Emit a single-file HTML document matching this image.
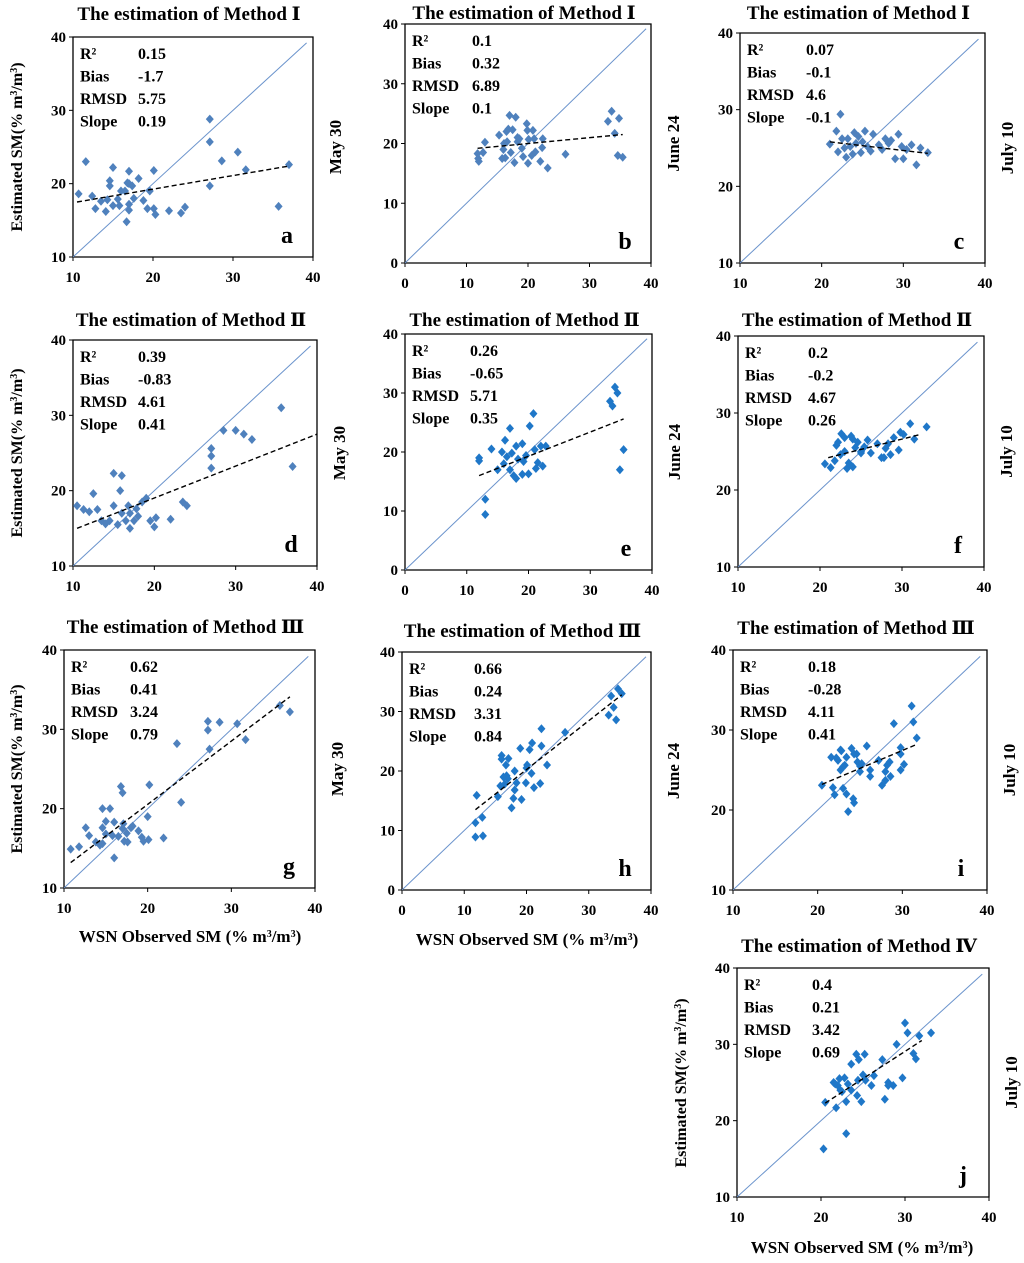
<!DOCTYPE html>
<html><head><meta charset="utf-8">
<style>
html,body{margin:0;padding:0;background:#fff;}
svg{display:block;font-family:"Liberation Serif","DejaVu Serif",serif;font-weight:bold;}
</style></head>
<body>
<svg id="fig" width="1024" height="1263" viewBox="0 0 1024 1263"></svg>
<script>
// ---- data ----
const aX=[10.7,11.6,12.4,12.8,13.5,14.1,14.3,14.6,14.6,15,15,15.6,15.8,16,16.5,16.8,16.7,17,17,17,17,17.4,17.6,18.2,18.8,19.3,19.6,20.1,20.1,20.3,22,23.5,24,27.1,27.1,27.1,28.6,30.6,31.6,35.7,37];
const aY=[18.6,23,18.3,16.6,17.6,16.2,17.8,20.4,19.7,22.2,17,17.9,17,19,19,20.1,14.8,21.7,20,17.2,16.4,19.7,18,20.7,17.7,16.6,19,21.8,16.6,15.8,16.3,16,16.8,28.8,25.7,19.7,23.1,24.3,21.9,16.9,22.6];
const bX=[11.8,11.9,12,12.7,13,15.3,15.8,16,16.1,16.3,16.5,16.6,16.8,17,17.2,17.5,17.8,18,18.3,18.3,18.6,19,19.2,19.8,19.9,20,20.1,20.6,20.8,21,21.2,22,22.3,22.4,23.2,26.1,33,33.6,34.1,34.6,34.8,35.4];
const bY=[18.3,17.5,17,18.5,20.2,21.4,17.5,19,20,17.6,22,20.3,22.4,24.7,18.5,22.3,16.8,24.4,20.3,21,20.8,19.2,17.8,23.3,22.2,16.7,20.7,18,22.2,20.8,18.6,17,19.3,20.8,15.9,18.2,23.7,25.4,21.7,18,24.2,17.7];
const cX=[21,21.8,22,22.3,22.5,22.8,23,23.2,23.5,23.8,24,24.2,24.5,24.8,25,25.3,25.6,26,26.3,27,27.4,27.8,28.2,28.5,29,29.4,29.8,30,30.4,31,31.6,32.1,33];
const cY=[25.5,27.2,24.5,29.4,26.2,25,23.8,26.2,25.2,24.2,27,25.6,26.5,24.4,25.8,27.2,25.2,24.6,26.8,25.4,24.8,26.2,25.6,26,23.6,26.8,25.2,23.6,24.8,25.4,22.8,25,24.4];
const dX=[10.5,11.3,12,12.5,13,13.5,14,14.5,15,15,15.5,15.8,16,16,16.5,16.8,17,17,17.5,17.8,18,18.5,19,19.5,20,20.2,22,23.5,24,27,27,27,28.5,30,31,32,35.6,37];
const dY=[18,17.5,17.2,19.6,17.5,16,15.6,16,18,22.3,15.5,20,17,22,16,18,15,17,16,17.6,16.6,18.5,19,16,15.2,16.4,16.2,18.5,18,25.6,24.6,23,28,28,27.5,26.8,31,23.2];
const eX=[12,12,13,13,14,15,15.7,16,16.2,16.5,17,17,17.3,17.6,18,18,18.3,19,19,19.2,19.6,20,20.2,20.8,21,21.2,21.5,22,22.3,22.8,33.2,33.6,34,34.4,34.8,35.4];
const eY=[19,18.5,12,9.4,20.5,17,20,18,22,19.2,17,24,19.8,16,21,15.5,18.8,16.2,21.4,18.4,19.4,16.3,24.4,26.5,20.4,17.2,18.2,21,17.6,21,28.6,27.8,31,30,17,20.4];
const fX=[20.6,21.3,21.8,22,22.2,22.5,22.6,23,23,23.3,23.5,23.8,24,24,24.3,24.6,25,25,25.4,25.8,26.2,27,27.5,27.8,28,28.3,28.6,29,29.6,29.8,30.2,31,31.5,33];
const fY=[23.4,22.9,23.8,25.8,26.2,24.6,27.3,26.8,25,22.8,23.5,27,26.6,23,25.5,26.2,25,24.8,25.6,26.5,24.8,26,24.2,24.2,25.4,26,24.6,26.8,25.2,27.5,27.2,28.6,26.6,28.2];
const gX=[10.8,11.8,12.6,13,13.8,14.3,14.6,14.6,14.6,15,15,15.5,16,15.8,16,16.5,16.8,17,17,17.1,17.2,17.5,17.6,18,18.2,18.9,19.3,19.5,20,20.1,20.2,21.9,23.5,24,27.2,27.2,27.4,28.6,30.7,31.7,35.8,37];
const gY=[14.9,15.2,17.6,16.6,15.8,15.4,15.6,17.6,20,18.4,16.8,20,18.3,16.6,13.8,16.5,22.8,22,17.5,18.1,15.9,16.9,15.8,17.6,17.8,17.2,16.4,15.9,19,16.1,23,16.3,28.2,20.8,31,29.9,27.5,30.9,30.7,28.7,33,32.2];
const hX=[11.8,11.8,12,12.9,13,15.4,15.8,16,16,16.3,16.5,16.7,16.8,17,17.1,17.6,17.9,18.1,18.1,18.4,19,19.2,19.9,20,20.1,20.5,20.8,20.9,21.2,22.2,22.4,22.4,23.3,26.2,33.2,33.6,34,34.4,34.7,35.3];
const hY=[8.9,11.3,15.9,12.2,9.1,15.7,17.5,22.6,22,19,17.8,21,19.2,18.7,22.1,13.8,15.4,16.8,20,18,23.8,15.2,18,20.5,21,23.6,19.6,24.7,17.2,17.9,24.2,27.1,21,26.5,29.4,32.6,30.7,28.6,33.8,33];
const iX=[20.5,21.6,21.8,22,22.2,22.4,22.7,22.7,22.8,23,23,23.2,23.4,23.4,23.6,24,24.2,24.3,24.3,24.6,24.7,25,25,25.2,25.8,26.2,26.2,27.2,27.6,28,28,28.2,28.5,28.6,29,29.8,29.8,29.8,30.2,31.1,31.3,31.7];
const iY=[23.1,26.6,22.8,21.9,26.5,26.2,25,27.5,27.4,25.4,22.7,25.6,26.6,22,19.8,27.7,21.4,20.9,27,27,26,24.8,25.5,25.8,28,25,24.2,26.2,23.1,23.7,24.8,25.6,26,24.2,30.8,25,27.8,27,25.7,33,31,29];
const jX=[20.3,20.5,21.5,21.7,21.8,22,22.2,22.3,22.5,22.8,23,23,23.2,23.6,23.6,24.2,24.3,24.4,24.5,24.8,25,25.2,25.3,26,26.3,27.3,27.6,28,28,28.6,29,29.7,30,30.3,31,31.3,31.7,33.1];
const jY=[16.3,22.4,25,24.8,21.7,24.6,25.5,24,23.8,25.6,22.5,18.3,24.8,24,27.4,28.7,23.3,25.3,28,22.5,26,28.7,25.3,24.6,25.9,28,22.8,25,24.6,24.6,30,25.6,32.8,31.5,28.8,28.1,31.1,31.5];
// trend line endpoints [x0,y0,x1,y1]
const aTrend=[10.5,17.5,37,22.4], bTrend=[11.8,19.2,35.4,21.5], cTrend=[21,25.8,33,24.3];
const dTrend=[10.5,15,40,27.5], eTrend=[12,16,35.4,25.6], fTrend=[21,24.2,32.2,27.2];
const gTrend=[10.8,13.2,37,34.1], hTrend=[11.8,13.5,35.3,32.8], iTrend=[20.5,23.2,31.7,28.2], jTrend=[20.5,22.3,32,30.5];
// stats
const statLabels=["R²","Bias","RMSD","Slope"];
const aStats=["0.15","-1.7","5.75","0.19"], bStats=["0.1","0.32","6.89","0.1"], cStats=["0.07","-0.1","4.6","-0.1"];
const dStats=["0.39","-0.83","4.61","0.41"], eStats=["0.26","-0.65","5.71","0.35"], fStats=["0.2","-0.2","4.67","0.26"];
const gStats=["0.62","0.41","3.24","0.79"], hStats=["0.66","0.24","3.31","0.84"], iStats=["0.18","-0.28","4.11","0.41"], jStats=["0.4","0.21","3.42","0.69"];
const ticks10=[10,20,30,40], ticks0=[0,10,20,30,40];

const NS="http://www.w3.org/2000/svg";
const svg=document.getElementById('fig');
function mk(tag,attrs,parent){const e=document.createElementNS(NS,tag);for(const k in attrs)e.setAttribute(k,attrs[k]);(parent||svg).appendChild(e);return e;}

const panels=[
 {id:'a',L:73,R:313,T:37,B:257,min:10,X:aX,Y:aY,tr:aTrend,st:aStats,title:"The estimation of Method Ⅰ",ty:20,date:"May 30",col:"#4f81bd",vx:138},
 {id:'b',L:405,R:651,T:24,B:263,min:0,X:bX,Y:bY,tr:bTrend,st:bStats,title:"The estimation of Method Ⅰ",ty:19,date:"June 24",col:"#4f81bd",vx:472},
 {id:'c',L:740,R:985,T:33,B:263,min:10,X:cX,Y:cY,tr:cTrend,st:cStats,title:"The estimation of Method Ⅰ",ty:19,date:"July 10",col:"#4f81bd",vx:806},
 {id:'d',L:73,R:317,T:340,B:566,min:10,X:dX,Y:dY,tr:dTrend,st:dStats,title:"The estimation of Method Ⅱ",ty:326,date:"May 30",col:"#4f81bd",vx:138},
 {id:'e',L:405,R:652,T:334,B:570,min:0,X:eX,Y:eY,tr:eTrend,st:eStats,title:"The estimation of Method Ⅱ",ty:326,date:"June 24",col:"#1f77c8",vx:470},
 {id:'f',L:738,R:984,T:336,B:567,min:10,X:fX,Y:fY,tr:fTrend,st:fStats,title:"The estimation of Method Ⅱ",ty:326,date:"July 10",col:"#1f77c8",vx:808},
 {id:'g',L:64,R:315,T:650,B:888,min:10,X:gX,Y:gY,tr:gTrend,st:gStats,title:"The estimation of Method Ⅲ",ty:633,date:"May 30",col:"#4f81bd",vx:130},
 {id:'h',L:402,R:651,T:652,B:890,min:0,X:hX,Y:hY,tr:hTrend,st:hStats,title:"The estimation of Method Ⅲ",ty:637,date:"June 24",col:"#1f77c8",vx:474},
 {id:'i',L:733,R:987,T:650,B:890,min:10,X:iX,Y:iY,tr:iTrend,st:iStats,title:"The estimation of Method Ⅲ",ty:634,date:"July 10",col:"#1f77c8",vx:808},
 {id:'j',L:737,R:989,T:968,B:1197,min:10,X:jX,Y:jY,tr:jTrend,st:jStats,title:"The estimation of Method Ⅳ",ty:952,date:"July 10",col:"#1f77c8",vx:812}
];

panels.forEach(p=>{
  const g=mk('g',{});
  
  
  const sx=v=>p.L+(v-p.min)/(40-p.min)*(p.R-p.L);
  const sy=v=>p.B-(v-p.min)/(40-p.min)*(p.B-p.T);
  const title=mk('text',{x:(p.L+p.R)/2-4,y:p.ty,'text-anchor':'middle','font-size':19},g);
  title.textContent=p.title;
  
  
  const frame=mk('path',{d:`M${p.L},${p.T}H${p.R}V${p.B}H${p.L}Z`,fill:'none',stroke:'#000','stroke-width':1.3},g);
  
  
  const ticks=p.min===0?ticks0:ticks10;
  ticks.forEach(t=>{
    mk('line',{x1:p.L-4,x2:p.L,y1:sy(t),y2:sy(t),stroke:'#000'},g);
    mk('line',{x1:sx(t),x2:sx(t),y1:p.B,y2:p.B+4,stroke:'#000'},g);
    const yl=mk('text',{x:p.L-7,y:sy(t)+5,'text-anchor':'end','font-size':15},g);
    yl.textContent=t;
    
    
    const xl=mk('text',{x:sx(t),y:p.B+25,'text-anchor':'middle','font-size':15},g);
    xl.textContent=t;
    
    
  });
  const one=mk('line',{x1:sx(p.min),y1:sy(p.min),x2:sx(39.2),y2:sy(39.2),stroke:'#6a93cc','stroke-width':1},g);
  
  
  p.X.forEach((x,k)=>{
    const cx=sx(x),cy=sy(p.Y[k]);
    const d=mk('path',{d:`M${cx},${cy-4.5}L${cx+4},${cy}L${cx},${cy+4.5}L${cx-4},${cy}Z`,fill:p.col},g);
    
    
  });
  const tl=mk('line',{x1:sx(p.tr[0]),y1:sy(p.tr[1]),x2:sx(p.tr[2]),y2:sy(p.tr[3]),stroke:'#000','stroke-width':1.4,'stroke-dasharray':'5,3'},g);
  
  
  statLabels.forEach((s,k)=>{
    const y=p.T+22+k*22.5;
    const lt=mk('text',{x:p.L+7,y:y,'font-size':16},g);
    lt.textContent=s;
    
    
    const vt=mk('text',{x:p.vx,y:y,'font-size':16},g);
    vt.textContent=p.st[k];
    
    
  });
  const let_=mk('text',{x:p.R-26,y:p.B-14,'font-size':24,'text-anchor':'middle'},g);
  let_.textContent=p.id;
  
  
  const dt=mk('text',{x:0,y:0,'font-size':17,'text-anchor':'middle',transform:`translate(${p.R+28},${(p.T+p.B)/2}) rotate(-90)`},g);
  dt.textContent=p.date;
  
  
});

function yTitle(x,y){
  const t=mk('text',{x:0,y:0,'font-size':16,'text-anchor':'middle',transform:`translate(${x},${y}) rotate(-90)`});
  t.innerHTML='Estimated  SM(% m<tspan baseline-shift="super" font-size="10">3</tspan>/m<tspan baseline-shift="super" font-size="10">3</tspan>)';
  
  
}
function xTitle(x,y){
  const t=mk('text',{x:x,y:y,'font-size':17,'text-anchor':'middle'});
  t.innerHTML='WSN Observed SM (% m<tspan baseline-shift="super" font-size="10">3</tspan>/m<tspan baseline-shift="super" font-size="10">3</tspan>)';
  
  
}
yTitle(22,147);yTitle(22,453);yTitle(22,769);yTitle(686,1083);
xTitle(190,942);xTitle(527,945);xTitle(862,1253);
</script>
</body></html>
